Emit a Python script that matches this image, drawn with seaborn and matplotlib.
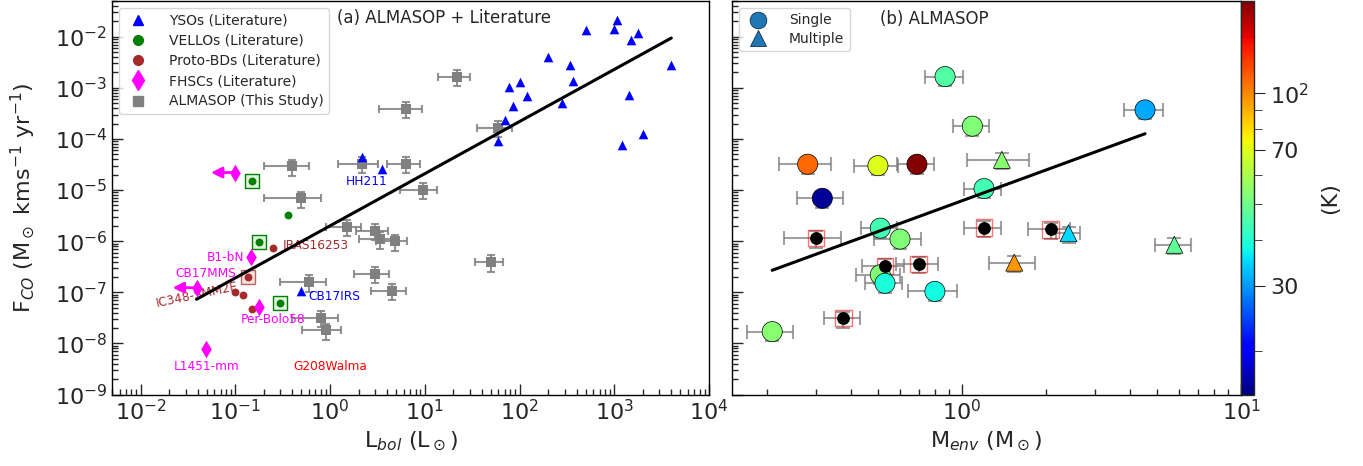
import numpy as np
import pandas as pd
import matplotlib
matplotlib.use("Agg")
import matplotlib.pyplot as plt
import seaborn as sns
from matplotlib.colors import LogNorm
from matplotlib.lines import Line2D
from matplotlib.ticker import FixedLocator, NullFormatter, LogLocator
import matplotlib.cm as cm

# ---------------- data: panel (a) ----------------
yso_L = [2.2, 3.5, 60, 70, 86, 77, 102, 120, 200, 282, 340, 370, 500, 1000, 1070,
         1490, 1800, 4000, 1420, 2000, 1200, 0.49]
yso_F = [4.4e-5, 2.6e-5, 9.3e-5, 2.3e-4, 4.4e-4, 1.06e-3, 1.3e-3, 6.9e-4, 4.0e-3, 5.1e-4,
         2.8e-3, 1.35e-3, 1.35e-2, 1.4e-2, 2.1e-2, 8.8e-3, 1.2e-2, 2.8e-3, 7.2e-4,
         1.24e-4, 7.6e-5, 1.07e-7]

vello_L = [0.15, 0.36, 0.18, 0.30]
vello_F = [1.48e-5, 3.2e-6, 9.8e-7, 6.2e-8]
vello_boxed = [True, False, True, True]

pbd_L = [0.25, 0.137, 0.0995, 0.12, 0.15]
pbd_F = [7.2e-7, 1.95e-7, 1.0e-7, 8.9e-8, 4.7e-8]
pbd_boxed = [False, True, False, False, False]

fhsc_L = [0.099, 0.148, 0.039, 0.179, 0.0495]
fhsc_F = [2.2e-5, 4.8e-7, 1.23e-7, 5.1e-8, 7.6e-9]
fhsc_upper = [True, False, True, False, False]

alma_L = [0.40, 0.50, 2.2, 6.4, 9.5, 1.5, 3.0, 3.4, 4.8, 3.0, 4.5, 0.60, 0.80, 0.90,
          22, 6.3, 60, 50]
alma_F = [2.9e-5, 6.9e-6, 3.3e-5, 3.3e-5, 1.02e-5, 1.9e-6, 1.6e-6, 1.1e-6, 1.0e-6,
          2.3e-7, 1.07e-7, 1.58e-7, 3.2e-8, 1.8e-8, 1.66e-3, 3.9e-4, 1.65e-4, 3.9e-7]
alma_Lerr_frac = [0.5, 0.6, 0.45, 0.38, 0.43, 0.4, 0.38, 0.4, 0.36, 0.4, 0.4, 0.5, 0.5,
                  0.44, 0.37, 0.48, 0.4, 0.33]
alma_Ferr_frac = 0.35

fit_a_slope, fit_a_intercept = 1.02, -5.70

# ---------------- data: panel (b) ----------------
single_M = [0.87, 1.09, 0.28, 0.50, 0.69, 0.316, 1.2, 0.51, 0.60, 0.51, 0.53, 0.80, 0.209, 4.53]
single_F = [1.66e-3, 1.78e-4, 3.2e-5, 3.0e-5, 3.2e-5, 6.9e-6, 1.07e-5, 1.8e-6, 1.1e-6,
            2.2e-7, 1.5e-7, 1.04e-7, 1.7e-8, 3.7e-4]
single_T = [46, 53, 109, 70, 175, 16, 44, 44, 53, 53, 39, 38, 54, 31]
single_Merr_frac = [0.155, 0.15, 0.21, 0.18, 0.15, 0.19, 0.15, 0.15, 0.19, 0.18, 0.15,
                    0.2, 0.19, 0.16]

multi_M = [1.39, 1.54, 2.41, 5.77]
multi_F = [3.9e-5, 3.8e-7, 1.43e-6, 8.5e-7]
multi_T = [54, 96, 35, 48]
multi_Merr_frac = [0.25, 0.19, 0.1, 0.15]

notemp_M = [0.30, 0.53, 0.70, 1.2, 2.08, 0.376]
notemp_F = [1.15e-6, 3.3e-7, 3.6e-7, 1.85e-6, 1.7e-6, 3.1e-8]
notemp_Merr_frac = [0.23, 0.17, 0.17, 0.15, 0.17, 0.15]
menv_Ferr_frac = 0.35

fit_b_slope, fit_b_intercept = 2.0, -5.21

T_min, T_max = 15.2, 178
cbar_major = [30, 70, 100]
cbar_major_labels = ['30', '70', r'$10^2$']
cbar_minor = [20, 40, 50, 60, 80, 90]

Lbol_major = [1e-2, 1e-1, 1e0, 1e1, 1e2, 1e3, 1e4]
Menv_major = [1e0, 1e1]
Fco_major = [1e-9, 1e-8, 1e-7, 1e-6, 1e-5, 1e-4, 1e-3, 1e-2]

# ---------------- style ----------------
sns.set_style("ticks")
plt.rcParams['font.family'] = ['DejaVu Sans']
plt.rcParams['xtick.direction'] = 'in'
plt.rcParams['ytick.direction'] = 'in'

fig = plt.figure(figsize=(13.63, 4.66), dpi=100)
W, H = 1363, 466
bottom = (H - 394.5) / H
height = 393.5 / H
ax1 = fig.add_axes([112 / W, bottom, (709 - 112) / W, height])
ax2 = fig.add_axes([732 / W, bottom, (1241 - 732) / W, height])
cax = fig.add_axes([1241 / W, bottom, 13 / W, height])

norm = LogNorm(vmin=T_min, vmax=T_max)
jet = matplotlib.colormaps['jet']

# ---------------- panel (a) ----------------
aL = np.array(alma_L); aF = np.array(alma_F)
ax1.errorbar(aL, aF, xerr=np.array(alma_Lerr_frac) * aL, yerr=alma_Ferr_frac * aF,
             fmt='none', ecolor='gray', elinewidth=1.5, capsize=3, capthick=1.5,
             alpha=0.85, zorder=2)
sns.scatterplot(x=alma_L, y=alma_F, marker='s', color='gray', s=55, linewidth=0,
                ax=ax1, zorder=3)
sns.scatterplot(x=yso_L, y=yso_F, marker='^', color='blue', s=48, linewidth=0,
                ax=ax1, zorder=4)

vb = [(l, f) for l, f, b in zip(vello_L, vello_F, vello_boxed) if b]
sns.scatterplot(x=[v[0] for v in vb], y=[v[1] for v in vb], marker='s', s=95,
                facecolor=(0.6, 0.85, 0.6, 0.3), edgecolor='green', linewidth=1.0,
                ax=ax1, zorder=4)
sns.scatterplot(x=vello_L, y=vello_F, marker='o', color='green', s=32, linewidth=0,
                ax=ax1, zorder=5)

pb = [(l, f) for l, f, b in zip(pbd_L, pbd_F, pbd_boxed) if b]
sns.scatterplot(x=[v[0] for v in pb], y=[v[1] for v in pb], marker='s', s=95,
                facecolor=(0.9, 0.6, 0.6, 0.3), edgecolor=(0.65, 0.16, 0.16, 0.7),
                linewidth=1.0, ax=ax1, zorder=4)
sns.scatterplot(x=pbd_L, y=pbd_F, marker='o', color='brown', s=32, linewidth=0,
                ax=ax1, zorder=5)

sns.scatterplot(x=fhsc_L, y=fhsc_F, marker='d', color='magenta', s=80, linewidth=0,
                ax=ax1, zorder=5)
for l, f, up in zip(fhsc_L, fhsc_F, fhsc_upper):
    if up:
        ax1.annotate('', xy=(l * 0.56, f), xytext=(l, f),
                     arrowprops=dict(arrowstyle='-|>', color='magenta', lw=2,
                                     mutation_scale=16, shrinkA=0, shrinkB=0),
                     zorder=4)

lx = np.array([min(fhsc_L), max(yso_L)])
ax1.plot(lx, 10 ** (fit_a_slope * np.log10(lx) + fit_a_intercept), color='black',
         lw=2.2, zorder=6)

ax1.set_xscale('log'); ax1.set_yscale('log')
ax1.set_xlim(5e-3, 1e4)
ax1.set_ylim(1e-9, 5e-2)

tfs = 8.7
ax1.text(2.46, 1.48e-5, 'HH211', color='blue', fontsize=tfs, ha='center', va='center')
ax1.text(0.316, 8.3e-7, 'IRAS16253', color='brown', fontsize=tfs, ha='left', va='center')
ax1.text(0.123, 4.9e-7, 'B1-bN', color='magenta', fontsize=tfs, ha='right', va='center')
ax1.text(0.103, 2.35e-7, 'CB17MMS', color='magenta', fontsize=tfs, ha='right', va='center')
ax1.text(0.039, 8.7e-8, 'IC348-SMM2E', color='brown', fontsize=tfs, ha='center',
         va='center', rotation=12)
ax1.text(0.585, 8.1e-8, 'CB17IRS', color='blue', fontsize=tfs, ha='left', va='center')
ax1.text(0.114, 2.95e-8, 'Per-Bolo58', color='magenta', fontsize=tfs, ha='left', va='center')
ax1.text(0.0224, 3.5e-9, 'L1451-mm', color='magenta', fontsize=tfs, ha='left', va='center')
ax1.text(0.407, 3.5e-9, 'G208Walma', color='red', fontsize=tfs, ha='left', va='center')
ax1.text(0.377, 0.958, '(a) ALMASOP + Literature', transform=ax1.transAxes,
         fontsize=12, ha='left', va='center')

handles_a = [
    Line2D([], [], marker='^', color='blue', ls='none', ms=7, label='YSOs (Literature)'),
    Line2D([], [], marker='o', color='green', ls='none', ms=7, label='VELLOs (Literature)'),
    Line2D([], [], marker='o', color='brown', ls='none', ms=7, label='Proto-BDs (Literature)'),
    Line2D([], [], marker='d', color='magenta', ls='none', ms=10, label='FHSCs (Literature)'),
    Line2D([], [], marker='s', color='gray', ls='none', ms=7, label='ALMASOP (This Study)'),
]
ax1.legend(handles=handles_a, loc='upper left', fontsize=10, borderaxespad=0.5,
           handletextpad=1.2, labelspacing=0.45)

ax1.set_xlabel(r'L$_{bol}$ (L$_\odot$)', fontsize=16)
ax1.set_ylabel(r'F$_{CO}$ (M$_\odot$ kms$^{-1}$ yr$^{-1}$)', fontsize=16)
ax1.yaxis.set_label_coords(-0.125, 0.5)

# ---------------- panel (b) ----------------
sM = np.array(single_M); sF = np.array(single_F)
mM = np.array(multi_M); mF = np.array(multi_F)
nM = np.array(notemp_M); nF = np.array(notemp_F)
for xm, yf, fr in [(sM, sF, single_Merr_frac), (mM, mF, multi_Merr_frac),
                   (nM, nF, notemp_Merr_frac)]:
    ax2.errorbar(xm, yf, xerr=np.array(fr) * xm, yerr=menv_Ferr_frac * yf, fmt='none',
                 ecolor='gray', elinewidth=1.5, capsize=5, capthick=1.5, alpha=0.75,
                 zorder=2)

df_s = pd.DataFrame({'M': single_M, 'F': single_F, 'T': single_T})
df_m = pd.DataFrame({'M': multi_M, 'F': multi_F, 'T': multi_T})
sns.scatterplot(data=df_s, x='M', y='F', hue='T', hue_norm=norm, palette=jet,
                marker='o', s=210, edgecolor='black', linewidth=0.5, legend=False,
                ax=ax2, zorder=4)
sns.scatterplot(data=df_m, x='M', y='F', hue='T', hue_norm=norm, palette=jet,
                marker='^', s=150, edgecolor='black', linewidth=0.5, legend=False,
                ax=ax2, zorder=4)
sns.scatterplot(x=notemp_M, y=notemp_F, marker='s', s=140, facecolor='none',
                edgecolor=(1, 0, 0, 0.55), linewidth=1.0, ax=ax2, zorder=3)
sns.scatterplot(x=notemp_M, y=notemp_F, marker='o', color='black', s=85, linewidth=0,
                ax=ax2, zorder=5)

mx = np.array([min(single_M), max(single_M)])
ax2.plot(mx, 10 ** (fit_b_slope * np.log10(mx) + fit_b_intercept), color='black',
         lw=2.2, zorder=6)

ax2.set_xscale('log'); ax2.set_yscale('log')
ax2.set_xlim(0.15, 10)
ax2.set_ylim(1e-9, 5e-2)
ax2.set_ylabel('')
ax2.set_xlabel(r'M$_{env}$ (M$_\odot$)', fontsize=16)
ax2.text(0.2916, 0.955, '(b) ALMASOP', transform=ax2.transAxes, fontsize=12,
         ha='left', va='center')

handles_b = [
    Line2D([], [], marker='o', color='#1f77b4', mec='#10304a', mew=0.6, ls='none',
           ms=12, label='Single'),
    Line2D([], [], marker='^', color='#1f77b4', mec='#10304a', mew=0.6, ls='none',
           ms=12, label='Multiple'),
]
ax2.legend(handles=handles_b, loc='upper left', fontsize=10, borderaxespad=0.5,
           handletextpad=1.2, labelspacing=0.3)

# ---------------- ticks ----------------
for ax, xmaj in ((ax1, Lbol_major), (ax2, Menv_major)):
    ax.xaxis.set_major_locator(FixedLocator(xmaj))
    ax.xaxis.set_minor_locator(LogLocator(base=10, subs=np.arange(2, 10), numticks=100))
    ax.yaxis.set_major_locator(FixedLocator(Fco_major))
    ax.yaxis.set_minor_locator(LogLocator(base=10, subs=np.arange(2, 10), numticks=100))
    ax.xaxis.set_minor_formatter(NullFormatter())
    ax.yaxis.set_minor_formatter(NullFormatter())
    ax.tick_params(which='both', direction='in', top=False, right=False,
                   labelsize=16, width=1)
    ax.tick_params(which='major', length=8)
    ax.tick_params(which='minor', length=4)
    for sp in ax.spines.values():
        sp.set_visible(True)
        sp.set_linewidth(1)
        sp.set_color('black')
ax2.tick_params(labelleft=False)

# ---------------- colorbar ----------------
sm = cm.ScalarMappable(norm=norm, cmap=jet)
sm.set_array([])
cb = fig.colorbar(sm, cax=cax)
cb.set_ticks(cbar_major)
cb.set_ticklabels(cbar_major_labels)
cax.yaxis.set_minor_locator(FixedLocator(cbar_minor))
cax.yaxis.set_minor_formatter(NullFormatter())
cax.tick_params(which='both', direction='out', labelsize=16)
cax.tick_params(which='major', length=8)
cax.tick_params(which='minor', length=6)
cb.outline.set_linewidth(1)
cb.set_label('(K)', fontsize=16, labelpad=8)

fig.savefig('out.png', dpi=100)
